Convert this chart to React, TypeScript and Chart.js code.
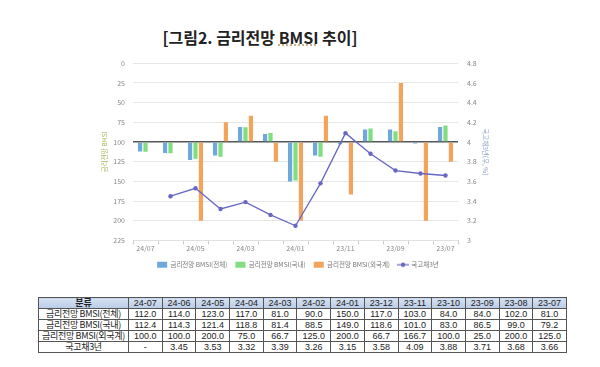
import React, { useEffect, useRef } from "react";
import { Chart, registerables } from "chart.js";

Chart.register(...registerables);

const categories = ["24/07", "24/06", "24/05", "24/04", "24/03", "24/02", "24/01", "23/12", "23/11", "23/10", "23/09", "23/08", "23/07"];
const tableHeaders = ["24-07", "24-06", "24-05", "24-04", "24-03", "24-02", "24-01", "23-12", "23-11", "23-10", "23-09", "23-08", "23-07"];
const bmsiTotal = [112.0, 114.0, 123.0, 117.0, 81.0, 90.0, 150.0, 117.0, 103.0, 84.0, 84.0, 102.0, 81.0];
const bmsiDomestic = [112.4, 114.3, 121.4, 118.8, 81.4, 88.5, 149.0, 118.6, 101.0, 83.0, 86.5, 99.0, 79.2];
const bmsiForeign = [100.0, 100.0, 200.0, 75.0, 66.7, 125.0, 200.0, 66.7, 166.7, 100.0, 25.0, 200.0, 125.0];
const ktb3y: (number | null)[] = [null, 3.45, 3.53, 3.32, 3.39, 3.26, 3.15, 3.58, 4.09, 3.88, 3.71, 3.68, 3.66];

const seriesNames = ["금리전망 BMSI(전체)", "금리전망 BMSI(국내)", "금리전망 BMSI(외국계)", "국고채3년"];
const tableRowNames = ["금리전망 BMSI(전체)", "금리전망 BMSI(국내)", "금리전망 BMSI(외국계)", "국고채3년"];

const FONT = "'Noto Sans CJK KR', 'Noto Sans', sans-serif";
const LINE_COLOR = "#6767c4";

function makeLineIcon(): HTMLCanvasElement {
  const c = document.createElement("canvas");
  c.width = 12;
  c.height = 6;
  const g = c.getContext("2d")!;
  g.strokeStyle = LINE_COLOR;
  g.lineWidth = 1.2;
  g.beginPath();
  g.moveTo(0, 3);
  g.lineTo(12, 3);
  g.stroke();
  g.fillStyle = LINE_COLOR;
  g.beginPath();
  g.arc(6, 3, 2.2, 0, Math.PI * 2);
  g.fill();
  return c;
}

function ChartCanvas() {
  const ref = useRef<HTMLCanvasElement | null>(null);
  useEffect(() => {
    if (!ref.current) return;
    const lineIcon = makeLineIcon();
    const chart = new Chart(ref.current, {
      type: "bar",
      data: {
        labels: categories,
        datasets: [
          {
            type: "line",
            label: seriesNames[3],
            data: ktb3y,
            yAxisID: "y1",
            borderColor: LINE_COLOR,
            backgroundColor: LINE_COLOR,
            borderWidth: 1.3,
            pointRadius: 2.2,
            pointBackgroundColor: LINE_COLOR,
            pointBorderWidth: 0,
            spanGaps: false,
            tension: 0,
            order: 0,
          } as any,
          {
            label: seriesNames[0],
            data: bmsiTotal,
            backgroundColor: "#6fa8dc",
            base: 100,
            yAxisID: "y",
            order: 1,
          } as any,
          {
            label: seriesNames[1],
            data: bmsiDomestic,
            backgroundColor: "#80de80",
            base: 100,
            yAxisID: "y",
            order: 1,
          } as any,
          {
            label: seriesNames[2],
            data: bmsiForeign,
            backgroundColor: "#f2a45c",
            base: 100,
            yAxisID: "y",
            order: 1,
          } as any,
        ],
      },
      options: {
        animation: false,
        responsive: false,
        maintainAspectRatio: false,
        layout: { padding: { top: 11, left: 0, right: 0, bottom: 0 } },
        datasets: { bar: { categoryPercentage: 0.65, barPercentage: 0.78 } } as any,
        plugins: {
          title: { display: false },
          tooltip: { enabled: false },
          legend: {
            position: "bottom",
            labels: {
              usePointStyle: true,
              pointStyleWidth: 10,
              boxWidth: 10,
              boxHeight: 6,
              padding: 8,
              color: "#777",
              font: { family: FONT, size: 6.5 },
              generateLabels: (ch: any) => {
                const items = (Chart.defaults.plugins.legend.labels as any).generateLabels(ch);
                items.forEach((it: any) => {
                  it.pointStyle = it.datasetIndex === 0 ? lineIcon : "rect";
                  it.lineWidth = 0;
                });
                return items;
              },
              sort: (a: any, b: any) => {
                const order = (i: number) => (i === 0 ? 3 : i - 1);
                return order(a.datasetIndex) - order(b.datasetIndex);
              },
            },
          },
        },
        scales: {
          x: {
            offset: true,
            grid: { display: true, drawOnChartArea: false, offset: true, tickLength: 4, color: "#cccccc" },
            border: { display: true, color: "#e0e0e0" },
            ticks: {
              color: "#888",
              font: { family: FONT, size: 7 },
              padding: 0,
              autoSkip: false,
              maxRotation: 0,
              callback: (v: any, i: number) => (i % 2 === 0 ? categories[i] : ""),
            },
            afterFit: (s: any) => {
              s.height = 13;
            },
          },
          y: {
            position: "left",
            reverse: true,
            min: 0,
            max: 225,
            ticks: { stepSize: 25, color: "#888", font: { family: FONT, size: 7 }, padding: 8 },
            grid: {
              drawTicks: false,
              color: (c: any) => (c.tick && c.tick.value === 100 ? "#555555" : "#e6e6e6"),
              lineWidth: (c: any) => (c.tick && c.tick.value === 100 ? 1.5 : 1),
            },
            border: { display: false },
            title: {
              display: true,
              text: "금리전망 BMSI",
              color: "#a8b860",
              font: { family: FONT, size: 6.5 },
              padding: { top: 13, bottom: 0 },
            },
            afterFit: (s: any) => {
              s.width = 45;
            },
          } as any,
          y1: {
            position: "right",
            min: 3,
            max: 4.8,
            ticks: {
              stepSize: 0.2,
              color: "#888",
              font: { family: FONT, size: 7 },
              padding: 9,
              callback: (v: any) => String(Number(Number(v).toFixed(1))),
            },
            grid: { drawOnChartArea: false, drawTicks: false },
            border: { display: false },
            title: {
              display: true,
              text: "국고채3년(우, %)",
              color: "#8aa0c0",
              font: { family: FONT, size: 6.5 },
              padding: { top: 19, bottom: 0 },
            },
            afterFit: (s: any) => {
              s.width = 50;
            },
          } as any,
        },
      },
    });
    return () => chart.destroy();
  }, []);
  return (
    <canvas
      ref={ref}
      width={420}
      height={228}
      style={{ position: "absolute", left: 88, top: 50, width: 420, height: 228 }}
    />
  );
}

export default function App() {
  const cellBase: React.CSSProperties = {
    border: "1px solid #555",
    padding: 0,
    height: 10,
    lineHeight: "10px",
    textAlign: "center",
    fontSize: 9,
    fontFamily: "'Liberation Sans', Arial, sans-serif",
    color: "#222",
    overflow: "hidden",
    whiteSpace: "nowrap",
  };
  const korCell: React.CSSProperties = {
    ...cellBase,
    fontFamily: FONT,
    fontSize: 9,
    letterSpacing: -0.3,
  };
  const headCell: React.CSSProperties = {
    ...cellBase,
    background: "linear-gradient(#d6e2f2, #b9cbe6)",
  };
  const rows = [
    bmsiTotal.map((v) => v.toFixed(1)),
    bmsiDomestic.map((v) => v.toFixed(1)),
    bmsiForeign.map((v) => v.toFixed(1)),
    ktb3y.map((v) => (v === null ? "-" : v.toFixed(2))),
  ];
  return (
    <div style={{ position: "fixed", left: 0, top: 0, width: 600, height: 367, background: "#fff", overflow: "hidden" }}>
      <div
        style={{
          position: "absolute",
          left: 160,
          top: 26,
          width: 200,
          textAlign: "center",
          fontFamily: "'Noto Sans CJK KR', serif",
          fontWeight: 700,
          fontSize: 16,
          lineHeight: "22px",
          color: "#222",
          whiteSpace: "nowrap",
        }}
      >
        [그림2. 금리전망 <span style={{ textDecoration: "underline dotted #b9a06a" }}>BMSI</span> 추이]
      </div>
      <ChartCanvas />
      <table
        style={{
          position: "absolute",
          left: 38,
          top: 297,
          width: 529,
          borderCollapse: "collapse",
          tableLayout: "fixed",
          border: "1.5px solid #444",
        }}
      >
        <colgroup>
          <col style={{ width: 90 }} />
          {tableHeaders.map((h) => (
            <col key={h} />
          ))}
        </colgroup>
        <tbody>
          <tr>
            <td style={{ ...headCell, fontFamily: FONT, fontWeight: 700 }}>분류</td>
            {tableHeaders.map((h) => (
              <td key={h} style={headCell}>
                {h}
              </td>
            ))}
          </tr>
          {rows.map((r, ri) => (
            <tr key={ri}>
              <td style={korCell}>{tableRowNames[ri]}</td>
              {r.map((v, ci) => (
                <td key={ci} style={cellBase}>
                  {v}
                </td>
              ))}
            </tr>
          ))}
        </tbody>
      </table>
    </div>
  );
}
